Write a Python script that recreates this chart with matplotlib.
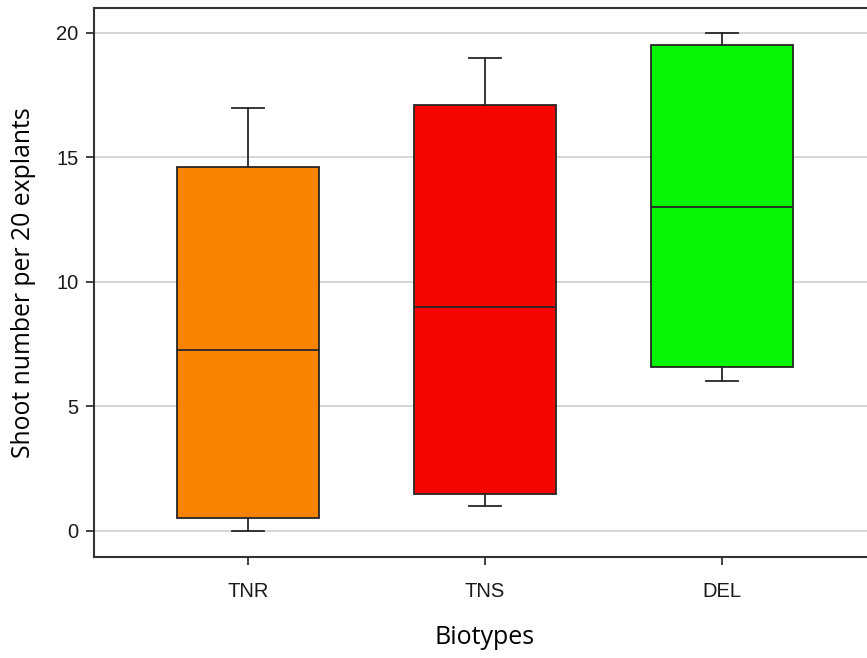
import matplotlib
matplotlib.use("Agg")
import matplotlib.pyplot as plt

plt.rcParams["font.family"] = ["Liberation Sans", "DejaVu Sans"]

# Biotype box statistics
biotipos = ["TNR", "TNS", "DEL"]
minimos = [0.0, 1.0, 6.0]
q1 = [0.5, 1.5, 6.6]
medianas = [7.25, 9.0, 13.0]
q3 = [14.6, 17.1, 19.5]
maximos = [17.0, 19.0, 20.0]
colores = ["#F98200", "#F50500", "#05F505"]

stats = []
for i, nombre in enumerate(biotipos):
    stats.append({
        "label": nombre,
        "whislo": minimos[i],
        "q1": q1[i],
        "med": medianas[i],
        "q3": q3[i],
        "whishi": maximos[i],
        "fliers": [],
    })

fig = plt.figure(figsize=(8.67, 6.58), dpi=100)
# axes run slightly past the right edge, like the cropped original
ax = fig.add_axes([94 / 867, 1 - 557 / 658, (876 - 94) / 867, (557 - 8) / 658])

borde = "#262626"
cajas = ax.bxp(stats, positions=[1, 2, 3], widths=0.6, patch_artist=True,
               capwidths=0.135, showfliers=False,
               boxprops=dict(edgecolor=borde, linewidth=1.3),
               medianprops=dict(color=borde, linewidth=1.3),
               whiskerprops=dict(color=borde, linewidth=1.3),
               capprops=dict(color=borde, linewidth=1.3))
for caja, color in zip(cajas["boxes"], colores):
    caja.set_facecolor(color)

ax.set_xlim(0.35, 3.65)
ax.set_ylim(-1.05, 21.0)
ax.set_yticks([0, 5, 10, 15, 20])
ax.yaxis.grid(True, color="#d0d0d0", linewidth=1.2)
ax.set_axisbelow(True)

for lado in ["left", "bottom", "top", "right"]:
    ax.spines[lado].set_color("#333333")
    ax.spines[lado].set_linewidth(1.5)

ax.tick_params(axis="both", length=6, width=1.3, color="#333333",
               labelsize=14.5, labelcolor="#1a1a1a", pad=5)
ax.tick_params(axis="x", pad=12)

ax.set_xlabel("Biotypes", family="Open Sans", fontsize=18, labelpad=17)
ax.set_ylabel("Shoot number per 20 explants", family="Open Sans", fontsize=17.8, labelpad=15)

fig.savefig("out.png", dpi=100)
